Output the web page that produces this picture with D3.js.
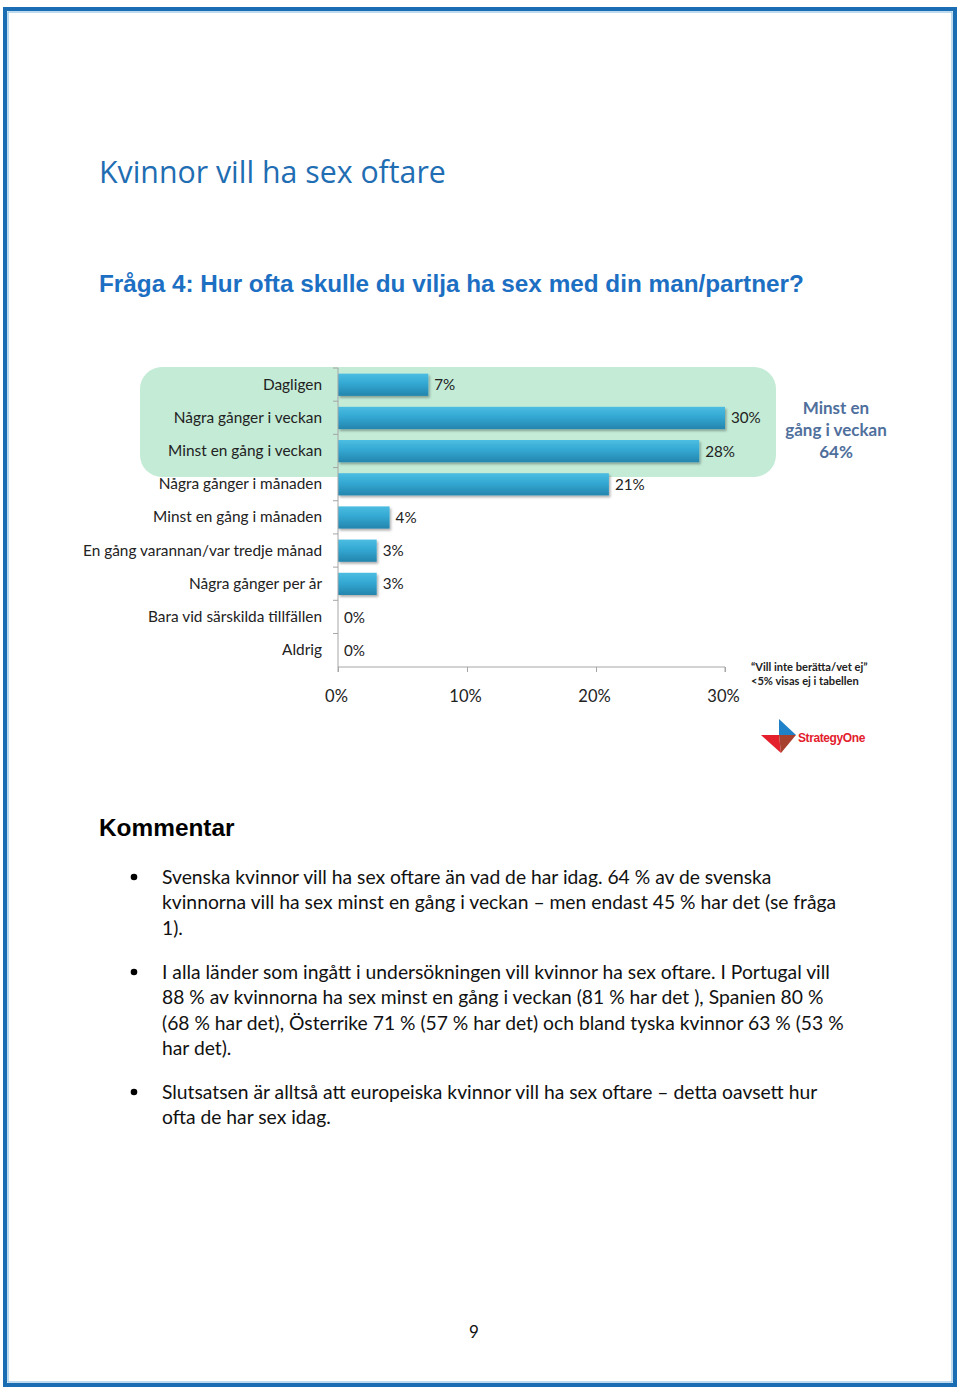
<!DOCTYPE html>
<html>
<head>
<meta charset="utf-8">
<script src="https://cdn.jsdelivr.net/npm/d3@7"></script>
<style>
html,body{margin:0;padding:0;background:#fff;}
svg{display:block;}
</style>
</head>
<body>
<div id="chart"></div>
<script>
const categories = [
  "Dagligen",
  "Några gånger i veckan",
  "Minst en gång i veckan",
  "Några gånger i månaden",
  "Minst en gång i månaden",
  "En gång varannan/var tredje månad",
  "Några gånger per år",
  "Bara vid särskilda tillfällen",
  "Aldrig"
];
const values = [7, 30, 28, 21, 4, 3, 3, 0, 0];
const xTicks = [0, 10, 20, 30];
const highlightCats = ["Dagligen", "Några gånger i veckan", "Minst en gång i veckan"];
const highlightLines = ["Minst en", "gång i veckan", "64%"];
const noteLines = ["“Vill inte berätta/vet ej”", "<5% visas ej i tabellen"];
const titleText = "Kvinnor vill ha sex oftare";
const questionText = "Fråga 4: Hur ofta skulle du vilja ha sex med din man/partner?";
const commentHeading = "Kommentar";
const bullets = [
  ["Svenska kvinnor vill ha sex oftare än vad de har idag. 64 % av de svenska",
   "kvinnorna vill ha sex minst en gång i veckan – men endast 45 % har det (se fråga",
   "1)."],
  ["I alla länder som ingått i undersökningen vill kvinnor ha sex oftare. I Portugal vill",
   "88 % av kvinnorna ha sex minst en gång i veckan (81 % har det ), Spanien 80 %",
   "(68 % har det), Österrike 71 % (57 % har det) och bland tyska kvinnor 63 % (53 %",
   "har det)."],
  ["Slutsatsen är alltså att europeiska kvinnor vill ha sex oftare – detta oavsett hur",
   "ofta de har sex idag."]
];
const pageNumber = "9";

const W = 960, H = 1393;
const svg = d3.select("#chart").append("svg").attr("width", W).attr("height", H);

// gradient for bars
const defs = svg.append("defs");
const grad = defs.append("linearGradient").attr("id", "barGrad").attr("x1", 0).attr("y1", 0).attr("x2", 0).attr("y2", 1);
grad.append("stop").attr("offset", "0%").attr("stop-color", "#4cbde2");
grad.append("stop").attr("offset", "45%").attr("stop-color", "#33a8d2");
grad.append("stop").attr("offset", "100%").attr("stop-color", "#2485ad");
const shadow = defs.append("filter").attr("id", "shadow").attr("x", "-5%").attr("y", "-20%").attr("width", "115%").attr("height", "160%");
shadow.append("feDropShadow").attr("dx", 1.5).attr("dy", 2).attr("stdDeviation", 1.2).attr("flood-color", "#000").attr("flood-opacity", 0.3);

// page frame
svg.append("rect").attr("x", 5).attr("y", 9).attr("width", 950).attr("height", 1376)
  .attr("fill", "none").attr("stroke", "#1b6db3").attr("stroke-width", 4);
svg.append("rect").attr("x", 8).attr("y", 12).attr("width", 944).attr("height", 1370)
  .attr("fill", "none").attr("stroke", "#7fb6de").attr("stroke-width", 1);

// title & question
svg.append("text").attr("x", 99).attr("y", 183).text(titleText)
  .attr("font-family", "'Open Sans', sans-serif").attr("font-size", 30.3).attr("fill", "#1f6db2");
svg.append("text").attr("x", 99).attr("y", 292).text(questionText)
  .attr("font-family", "'Liberation Sans', Arial, sans-serif").attr("font-weight", "bold")
  .attr("font-size", 24.3).attr("fill", "#1c6fc2");

// chart
const x = d3.scaleLinear().domain([0, 30]).range([338, 725]);
const y = d3.scaleBand().domain(categories).range([368, 667]).paddingInner(0.33).paddingOuter(0.17);

// highlight rounded box
svg.append("rect").attr("x", 140).attr("y", 367).attr("width", 776 - 140).attr("height", 477 - 367)
  .attr("rx", 22).attr("ry", 22).attr("fill", "#c3ebd6");

const labelFont = "Lato, 'Open Sans', sans-serif";

// bars
svg.append("g").selectAll("rect").data(values).join("rect")
  .attr("x", x(0)).attr("y", (d, i) => y(categories[i]))
  .attr("width", d => x(d) - x(0)).attr("height", y.bandwidth())
  .attr("fill", "url(#barGrad)").attr("filter", "url(#shadow)")
  .attr("display", d => d > 0 ? null : "none");

// value labels
svg.append("g").selectAll("text").data(values).join("text")
  .attr("x", d => x(d) + 6).attr("y", (d, i) => y(categories[i]) + y.bandwidth() / 2 + 5.5)
  .text(d => d + "%").attr("font-family", labelFont).attr("font-size", 15.2).attr("fill", "#222");

// y axis
const yAxis = d3.axisLeft(y).tickSize(0).tickPadding(16);
const yg = svg.append("g").attr("transform", `translate(${x(0)},0)`).call(yAxis);
yg.select(".domain").attr("stroke", "#a6a6a6").attr("d", "M0,368V667");
yg.selectAll("text").attr("font-family", labelFont).attr("font-size", 15.4).attr("fill", "#222");
// boundary ticks on y axis
svg.append("g").selectAll("line").data(categories).join("line")
  .attr("x1", x(0) - 5).attr("x2", x(0))
  .attr("y1", c => y(c) - y.step() * y.paddingInner() / 2 - (y.step() * 0.17 - y.step() * 0.165))
  .attr("y2", c => y(c) - y.step() * y.paddingInner() / 2 - (y.step() * 0.17 - y.step() * 0.165))
  .attr("stroke", "#a6a6a6");

// x axis
const xAxis = d3.axisBottom(x).tickValues(xTicks).tickFormat(d => d + "%").tickSize(5).tickPadding(18);
const xg = svg.append("g").attr("transform", "translate(0,667)").call(xAxis);
xg.select(".domain").attr("stroke", "#a6a6a6").attr("d", `M${x(0)},5V0H${x(30)}V5`);
xg.selectAll(".tick line").attr("stroke", "#a6a6a6");
xg.selectAll("text").attr("font-family", labelFont).attr("font-size", 16.5).attr("fill", "#222")
  .attr("dx", -2);

// highlight annotation
svg.append("g").selectAll("text").data(highlightLines).join("text")
  .attr("x", 836).attr("y", (d, i) => 414 + i * 22).attr("text-anchor", "middle")
  .text(d => d).attr("font-family", labelFont).attr("font-weight", "bold")
  .attr("font-size", 17).attr("fill", "#4f6f9c");

// note
svg.append("g").selectAll("text").data(noteLines).join("text")
  .attr("x", 751).attr("y", (d, i) => 671 + i * 14)
  .text(d => d).attr("font-family", labelFont).attr("font-weight", "bold")
  .attr("font-size", 11.1).attr("fill", "#222");

// StrategyOne logo
const logo = svg.append("g");
logo.append("path").attr("d", "M779,719 L796,735 L779,735 Z").attr("fill", "#1f82c8");
logo.append("path").attr("d", "M761,735 L779,735 L781,753 Z").attr("fill", "#e3202c");
logo.append("path").attr("d", "M779,735 L796,735 L781,753 Z").attr("fill", "#a8402e");
logo.append("text").attr("x", 798).attr("y", 742).text("StrategyOne")
  .attr("font-family", "'Liberation Sans', Arial, sans-serif").attr("font-weight", "bold")
  .attr("font-size", 12).attr("letter-spacing", -0.4).attr("fill", "#e3202c");

// Kommentar
svg.append("text").attr("x", 99).attr("y", 836).text(commentHeading)
  .attr("font-family", "'Liberation Sans', Arial, sans-serif").attr("font-weight", "bold")
  .attr("font-size", 24.4).attr("fill", "#000");

const bodyFont = "Lato, 'Open Sans', sans-serif";
const bulletStarts = [877, 972, 1092];
const lineH = 25.5;
bullets.forEach((lines, bi) => {
  const g = svg.append("g");
  g.append("circle").attr("cx", 134).attr("cy", bulletStarts[bi]).attr("r", 3.3).attr("fill", "#000");
  g.selectAll("text").data(lines).join("text")
    .attr("x", 162).attr("y", (d, i) => bulletStarts[bi] + 6.5 + i * lineH)
    .text(d => d).attr("font-family", bodyFont).attr("font-size", 19.3).attr("fill", "#111");
});

svg.append("text").attr("x", 474).attr("y", 1338).attr("text-anchor", "middle").text(pageNumber)
  .attr("font-family", bodyFont).attr("font-size", 17).attr("fill", "#111");
</script>
</body>
</html>
